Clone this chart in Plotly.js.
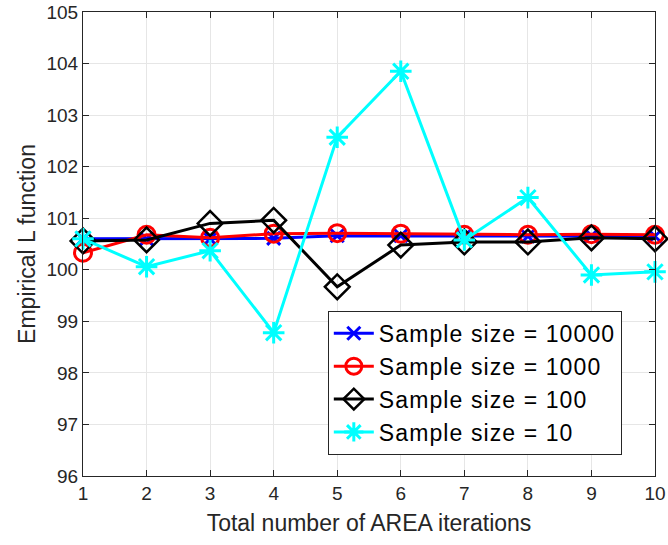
<!DOCTYPE html>
<html>
<head>
<meta charset="utf-8">
<script src="https://cdn.plot.ly/plotly-3.0.1.min.js"></script>
<style>html,body{margin:0;padding:0;background:#fff;}#chart{width:668px;height:545px;}
.legendtext{letter-spacing:1.1px;}</style>
</head>
<body>
<div id="chart"></div>
<script>
const iterations = [1, 2, 3, 4, 5, 6, 7, 8, 9, 10];
const seriesNames = ['Sample size = 10000', 'Sample size = 1000', 'Sample size = 100', 'Sample size = 10'];
const size10000 = [100.6, 100.6, 100.6, 100.61, 100.66, 100.66, 100.65, 100.65, 100.66, 100.65];
const size1000 = [100.33, 100.68, 100.62, 100.7, 100.71, 100.7, 100.68, 100.68, 100.69, 100.68];
const size100 = [100.56, 100.58, 100.9, 100.96, 99.67, 100.48, 100.54, 100.54, 100.62, 100.6];
const size10 = [100.6, 100.06, 100.37, 98.78, 102.57, 103.85, 100.58, 101.4, 99.9, 99.96];

const axisColor = '#262626';
const gridColor = '#e6e6e6';
const font = 'Liberation Sans, Arial, sans-serif';

const traces = [
  {x: iterations, y: size10000, name: seriesNames[0], mode: 'lines+markers', cliponaxis: false,
   line: {color: '#0000ff', width: 3},
   marker: {symbol: 'x-thin-open', size: 13, line: {color: '#0000ff', width: 3}}},
  {x: iterations, y: size1000, name: seriesNames[1], mode: 'lines+markers', cliponaxis: false,
   line: {color: '#ff0000', width: 3},
   marker: {symbol: 'circle-open', size: 17, color: '#ff0000', line: {color: '#ff0000', width: 3}}},
  {x: iterations, y: size100, name: seriesNames[2], mode: 'lines+markers', cliponaxis: false,
   line: {color: '#000000', width: 3},
   marker: {symbol: 'diamond-open', size: 19, color: '#000000', line: {color: '#000000', width: 2.5}}},
  {x: iterations, y: size10, name: seriesNames[3], mode: 'lines+markers', cliponaxis: false,
   line: {color: '#00ffff', width: 3},
   marker: {symbol: 'asterisk-open', size: 18, color: '#00ffff', line: {color: '#00ffff', width: 3}}}
];

const layout = {
  width: 668, height: 545,
  margin: {l: 83, r: 13, t: 12, b: 69},
  paper_bgcolor: '#ffffff', plot_bgcolor: '#ffffff',
  font: {family: font, color: axisColor},
  showlegend: true,
  legend: {
    x: 0.428, y: 0.356, xanchor: 'left', yanchor: 'top',
    bgcolor: '#ffffff', bordercolor: axisColor, borderwidth: 1,
    font: {family: font, size: 23, color: '#000000'},
    itemwidth: 40, tracegroupgap: 0
  },
  xaxis: {
    range: [1, 10], tickvals: iterations, ticktext: iterations.map(String),
    showline: true, linecolor: axisColor, linewidth: 1, mirror: 'ticks',
    ticks: 'inside', ticklen: 6, tickcolor: axisColor,
    showgrid: true, gridcolor: gridColor, zeroline: false,
    tickfont: {family: font, size: 19, color: axisColor},
    title: {text: 'Total number of AREA iterations', font: {family: font, size: 23, color: axisColor}, standoff: 12}
  },
  yaxis: {
    range: [96, 105], dtick: 1, tick0: 96,
    showline: true, linecolor: axisColor, linewidth: 1, mirror: 'ticks',
    ticks: 'inside', ticklen: 6, tickcolor: axisColor,
    showgrid: true, gridcolor: gridColor, zeroline: false,
    tickfont: {family: font, size: 19, color: axisColor},
    title: {text: 'Empirical L function', font: {family: font, size: 23, color: axisColor}, standoff: 4}
  }
};

Plotly.newPlot('chart', traces, layout, {displayModeBar: false, staticPlot: true});
</script>
</body>
</html>
